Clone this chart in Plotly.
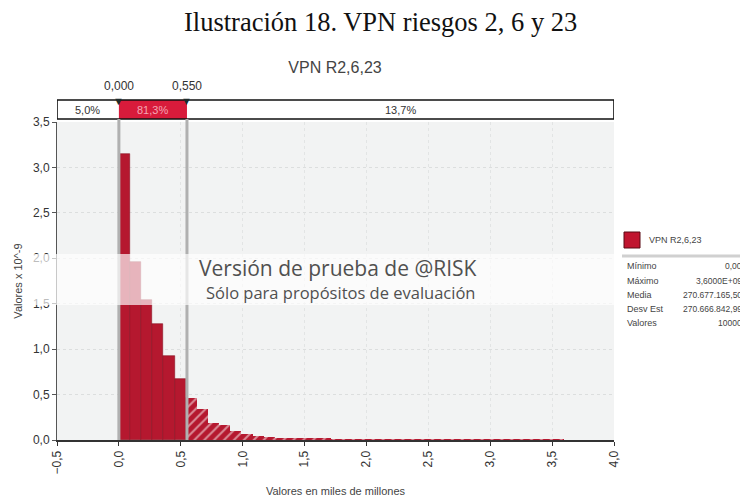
import plotly.graph_objects as go

# ---------------- data ----------------
bin_width = 0.09
bin_start = [round(i * bin_width, 2) for i in range(40)]
density = [3.15, 1.96, 1.54, 1.28, 0.93, 0.67, 0.46, 0.34, 0.19, 0.16,
           0.10, 0.065, 0.045, 0.035, 0.025, 0.02, 0.016, 0.014, 0.012, 0.011,
           0.010, 0.009, 0.008, 0.008, 0.007, 0.006, 0.006, 0.005, 0.005, 0.004,
           0.004, 0.004, 0.003, 0.003, 0.003, 0.003, 0.002, 0.002, 0.002, 0.002]
p_lo, p_hi = 0.0, 0.55
p_labels = ["0,000", "0,550"]
pct_labels = ["5,0%", "81,3%", "13,7%"]
stat_names = ["Mínimo", "Máximo", "Media", "Desv Est", "Valores"]
stat_values = ["0,00", "3,6000E+09", "270.677.165,50", "270.666.842,99", "10000"]
series_name = "VPN R2,6,23"
x_range = [-0.5, 4.0]
y_range = [0, 3.5]

# ---------------- geometry helpers (page pixels; page has an 8px body margin) ----------------
W, H = 748, 496
OFF = 8
L, R, T, B = 57, 614, 122, 440   # plot area in page pixels


def px(x):
    return (x - L) / (R - L)


def py(y):
    return (B - y) / (B - T)


RED = "#b5182f"
FONT = "Liberation Sans, Arial"

# split bins at p_hi into solid (inside) and hatched (outside)
sx, sw, sy, hx, hw, hy = [], [], [], [], [], []
for s, d in zip(bin_start, density):
    e = s + bin_width
    a, b = max(s, p_lo), min(e, p_hi)
    if b > a:
        sx.append((a + b) / 2); sw.append(b - a); sy.append(d)
    a2 = max(s, p_hi)
    if e > a2:
        hx.append((a2 + e) / 2); hw.append(e - a2); hy.append(d)

fig = go.Figure()
fig.add_trace(go.Bar(x=sx, y=sy, width=sw, marker=dict(color=RED, line=dict(width=0.6, color="#8a1022")),
                     showlegend=False, hoverinfo="skip"))
fig.add_trace(go.Bar(x=hx, y=hy, width=hw,
                     marker=dict(color=RED, line=dict(width=0),
                                 pattern=dict(shape="/", fgcolor="white", size=7, solidity=0.28,
                                              fillmode="overlay")),
                     showlegend=False, hoverinfo="skip"))

shapes = []
band_lo, band_hi = py(119), py(100)
shapes.append(dict(type="rect", xref="x", yref="paper", x0=x_range[0], x1=x_range[1], y0=band_lo, y1=band_hi,
                   fillcolor="white", line=dict(width=0), layer="above"))
shapes.append(dict(type="rect", xref="x", yref="paper", x0=p_lo, x1=p_hi, y0=band_lo, y1=band_hi,
                   fillcolor="#d81b3b", line=dict(width=0), layer="above"))
shapes.append(dict(type="rect", xref="x", yref="paper", x0=x_range[0], x1=x_range[1], y0=band_lo, y1=band_hi,
                   fillcolor="rgba(0,0,0,0)", line=dict(width=1.6, color="#111"), layer="above"))
for p in (p_lo, p_hi):
    shapes.append(dict(type="line", xref="x", yref="paper", x0=p, x1=p, y0=0, y1=band_lo,
                       line=dict(color="#b0b0b0", width=3), layer="above"))
# watermark band
shapes.append(dict(type="rect", xref="paper", yref="paper", x0=px(0), x1=px(W), y0=py(305), y1=py(254),
                   fillcolor="rgba(255,255,255,0.68)", line=dict(width=0), layer="above"))
# legend icon and separator
shapes.append(dict(type="rect", xref="paper", yref="paper", x0=px(624), x1=px(640), y0=py(248), y1=py(232),
                   fillcolor="#c0152f", line=dict(width=1, color="#5a0a15"), layer="above"))
shapes.append(dict(type="line", xref="paper", yref="paper", x0=px(622), x1=px(748), y0=py(256), y1=py(256),
                   line=dict(color="#d0d0d0", width=3), layer="above"))

ann = []
ann.append(dict(text="Ilustración 18. VPN riesgos 2, 6 y 23", xref="paper", yref="paper", x=px(380), y=py(22),
                showarrow=False, font=dict(family="Liberation Serif, Times New Roman", size=26.5, color="#111"),
                xanchor="center", yanchor="middle"))
centers = [(x_range[0] + p_lo) / 2, (p_lo + p_hi) / 2, (p_hi + x_range[1]) / 2]
colors = ["#333", "#f4a6b4", "#333"]
for c, t, col in zip(centers, pct_labels, colors):
    ann.append(dict(text=t, xref="x", yref="paper", x=c, y=(band_lo + band_hi) / 2, showarrow=False,
                    font=dict(family=FONT, size=11, color=col), xanchor="center", yanchor="middle"))
for p, t in zip((p_lo, p_hi), p_labels):
    ann.append(dict(text="▼", xref="x", yref="paper", x=p, y=py(101), showarrow=False,
                    font=dict(size=11, color="#1f2b2b"), xanchor="center", yanchor="middle"))
    ann.append(dict(text=t, xref="x", yref="paper", x=p, y=py(86), showarrow=False,
                    font=dict(family=FONT, size=12, color="#333"), xanchor="center", yanchor="middle"))
ann.append(dict(text="Versión de prueba de @RISK", xref="paper", yref="paper", x=px(197), y=py(268),
                showarrow=False, font=dict(family="Open Sans", size=21, color="#505050"),
                xanchor="left", yanchor="middle"))
ann.append(dict(text="Sólo para propósitos de evaluación", xref="paper", yref="paper", x=px(204), y=py(292),
                showarrow=False, font=dict(family="Open Sans", size=16.5, color="#505050"),
                xanchor="left", yanchor="middle"))
ann.append(dict(text=series_name, xref="paper", yref="paper", x=px(647), y=py(240), showarrow=False,
                font=dict(family=FONT, size=9, color="#444"), xanchor="left", yanchor="middle"))
rows_y = [266, 281, 295, 309, 323]
for n, v, yy in zip(stat_names, stat_values, rows_y):
    ann.append(dict(text=n, xref="paper", yref="paper", x=px(625), y=py(yy), showarrow=False,
                    font=dict(family=FONT, size=9, color="#444"), xanchor="left", yanchor="middle"))
    ann.append(dict(text=v, xref="paper", yref="paper", x=px(744), y=py(yy), showarrow=False,
                    font=dict(family=FONT, size=8.5, color="#444"), xanchor="right", yanchor="middle"))

fig.update_layout(
    width=W, height=H, autosize=False,
    margin=dict(l=L - OFF, r=W - R + OFF, t=T - OFF, b=H - B + OFF, autoexpand=False),
    paper_bgcolor="white", plot_bgcolor="#f2f3f3",
    separators=",.",
    barmode="overlay", bargap=0,
    title=dict(text="VPN R2,6,23", x=(335 - OFF) / W, xanchor="center",
               y=1 - (67 - OFF) / H, yanchor="middle",
               font=dict(family=FONT, size=16, color="#444")),
    font=dict(family=FONT, size=11, color="#333"),
    shapes=shapes, annotations=ann,
    xaxis=dict(range=x_range, dtick=0.5, tick0=-0.5, tickformat=".1f", tickangle=-90, automargin=False,
               tickfont=dict(size=12, color="#333"),
               showgrid=True, gridcolor="#e2e4e4", griddash="dot", zeroline=False,
               showline=True, linecolor="#333", linewidth=2, ticks="outside", ticklen=4, tickcolor="#333",
               title=dict(text="Valores en miles de millones", font=dict(size=11, color="#444"), standoff=14)),
    yaxis=dict(range=y_range, dtick=0.5, tickformat=".1f", automargin=False,
               tickfont=dict(size=12, color="#333"),
               showgrid=True, gridcolor="#dcdede", griddash="dot", zeroline=False,
               showline=True, linecolor="#555", linewidth=1, ticks="outside", ticklen=4, tickcolor="#555",
               title=dict(text="Valores x 10^-9", font=dict(size=11, color="#444"), standoff=8)),
)

fig.write_html("out.html")
